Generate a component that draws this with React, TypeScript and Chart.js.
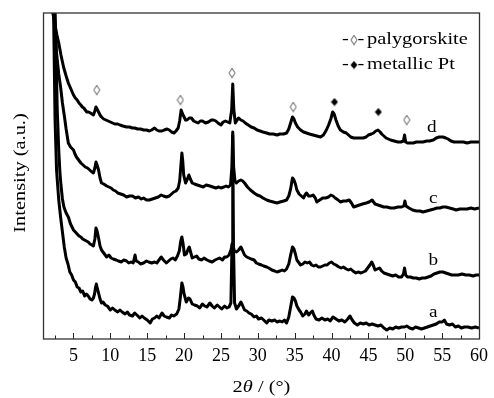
import { useEffect, useRef } from 'react';
import { Chart, registerables } from 'chart.js';

Chart.register(...registerables);

// ---- data (2θ in degrees, intensity in arbitrary units) ----
const curveNames = ['a', 'b', 'c', 'd'];

const seriesA: [number, number][] = [
  [2.0,420],[2.3,326],[2.5,219],[2.7,169],[3.0,139],[3.25,122],[3.5,107],[3.75,92],[4.0,81],[4.25,75],[4.5,67],[4.75,64],[5.0,59],[5.25,57],[5.5,52],[5.75,51],[6.0,47],[6.25,48],[6.5,43],[6.75,45],[7.0,43],[7.25,40],[7.5,39],[7.7,41],[7.85,45],[8.0,52],[8.1,55],[8.25,50],[8.4,46],[8.6,40],[8.8,36],[9.0,37],[9.3,34],[9.6,33],[10.0,29],[10.3,31],[10.6,29],[11.0,27],[11.3,29],[11.6,27],[12.0,25],[12.3,27],[12.6,24],[13.0,23],[13.3,26],[13.6,24],[14.0,21],[14.3,23],[14.6,21],[15.0,19],[15.4,16],[15.7,20],[16.0,21],[16.3,23],[16.6,21],[17.0,26],[17.3,23],[17.6,22],[18.0,21],[18.3,24],[18.6,23],[19.0,25],[19.3,30],[19.5,42],[19.7,56],[19.85,52],[20.0,45],[20.3,37],[20.6,41],[20.8,40],[21.1,35],[21.4,34],[21.8,33],[22.1,31],[22.5,35],[22.8,33],[23.1,32],[23.5,36],[23.8,33],[24.1,31],[24.5,34],[24.8,32],[25.1,30],[25.5,33],[25.8,31],[26.1,32],[26.35,36],[26.5,95],[26.6,204],[26.7,95],[26.85,36],[27.1,30],[27.4,33],[27.7,37],[27.9,34],[28.2,29],[28.5,28],[28.8,26],[29.1,25],[29.5,22],[29.8,23],[30.1,20],[30.5,21],[30.8,19],[31.2,16],[31.5,19],[31.9,18],[32.3,19],[32.6,17],[33.0,18],[33.3,17],[33.6,19],[33.9,16],[34.2,22],[34.5,34],[34.7,42],[34.9,41],[35.1,38],[35.3,33],[35.6,29],[35.8,27],[36.1,23],[36.4,25],[36.6,28],[36.9,24],[37.1,26],[37.4,28],[37.6,24],[37.9,20],[38.3,19],[38.7,21],[39.1,19],[39.5,20],[39.8,18],[40.2,22],[40.6,20],[41.0,18],[41.4,19],[41.8,17],[42.2,20],[42.5,23],[42.8,19],[43.1,16],[43.5,14],[43.9,16],[44.3,15],[44.7,16],[45.1,14],[45.5,15],[45.9,14],[46.3,13],[46.7,14],[47.1,11],[47.5,9],[47.9,11],[48.3,10],[48.7,12],[49.1,11],[49.5,12],[49.9,12],[50.2,13],[50.6,11],[51.0,10],[51.4,12],[51.8,11],[52.2,10],[52.6,11],[53.0,12],[53.4,13],[53.8,14],[54.2,15],[54.6,17],[55.0,17],[55.3,19],[55.6,15],[56.0,14],[56.4,15],[56.8,12],[57.2,13],[57.6,11],[58.0,12],[58.5,12],[59.0,11],[59.5,12],[60.0,11]
];

const seriesB: [number, number][] = [
  [2.2,420],[2.5,326],[2.8,229],[3.0,189],[3.15,168],[3.3,154],[3.5,140],[3.7,132],[4.0,126],[4.3,122],[4.6,115],[5.0,109],[5.25,107],[5.5,105],[5.75,103],[6.0,102],[6.25,100],[6.5,99],[6.75,98],[7.0,97],[7.25,95],[7.5,94],[7.7,93],[7.9,100],[8.05,111],[8.2,108],[8.4,101],[8.6,93],[8.8,89],[9.1,86],[9.5,82],[9.8,84],[10.1,81],[10.4,80],[10.8,79],[11.1,78],[11.5,77],[11.8,79],[12.2,78],[12.5,76],[12.8,77],[13.1,76],[13.35,84],[13.5,78],[13.8,77],[14.1,75],[14.5,76],[14.9,78],[15.2,77],[15.6,76],[16.0,77],[16.3,76],[16.6,79],[16.9,82],[17.2,79],[17.6,76],[17.9,78],[18.2,80],[18.5,81],[18.8,79],[19.1,83],[19.35,88],[19.55,98],[19.7,102],[19.85,96],[20.05,84],[20.3,85],[20.55,90],[20.7,92],[20.85,88],[21.1,81],[21.4,82],[21.7,83],[22.0,80],[22.4,79],[22.7,81],[23.1,79],[23.4,78],[23.8,77],[24.2,79],[24.5,80],[24.8,81],[25.2,79],[25.5,82],[25.8,82],[26.1,84],[26.35,89],[26.6,96],[26.8,88],[27.1,87],[27.4,89],[27.7,92],[27.9,89],[28.2,84],[28.5,82],[28.8,81],[29.1,80],[29.5,79],[29.8,76],[30.1,75],[30.5,74],[30.8,73],[31.2,72],[31.5,71],[31.9,69],[32.3,68],[32.6,67],[33.0,68],[33.3,69],[33.6,68],[33.9,70],[34.2,75],[34.45,84],[34.7,92],[34.9,90],[35.1,85],[35.3,79],[35.6,76],[35.8,74],[36.1,75],[36.4,77],[36.7,76],[37.0,77],[37.3,74],[37.6,73],[37.9,74],[38.2,72],[38.5,72],[38.8,73],[39.1,74],[39.4,74],[39.7,76],[40.0,77],[40.3,75],[40.6,74],[41.0,72],[41.3,71],[41.6,72],[42.0,70],[42.3,69],[42.6,70],[42.9,68],[43.3,66],[43.6,67],[44.0,66],[44.3,67],[44.6,68],[44.9,71],[45.2,74],[45.45,77],[45.7,73],[45.9,69],[46.2,70],[46.5,71],[46.8,68],[47.1,66],[47.5,65],[47.9,64],[48.3,63],[48.7,64],[49.1,62],[49.5,62],[49.75,65],[49.9,71],[50.05,64],[50.3,62],[50.7,62],[51.1,61],[51.5,61],[51.9,60],[52.3,61],[52.7,61],[53.1,62],[53.5,63],[53.9,65],[54.3,66],[54.7,67],[55.1,67],[55.5,66],[55.9,65],[56.3,64],[56.7,64],[57.2,64],[57.7,65],[58.2,64],[58.7,64],[59.2,63],[59.6,64],[60.0,64]
];

const seriesC: [number, number][] = [
  [2.2,420],[2.45,326],[2.7,286],[3.0,265],[3.25,252],[3.5,236],[3.8,221],[4.0,210],[4.3,196],[4.6,192],[5.0,189],[5.2,185],[5.4,182],[5.7,179],[6.0,176],[6.3,174],[6.6,172],[6.9,171],[7.2,169],[7.5,167],[7.7,166],[7.9,171],[8.05,177],[8.2,174],[8.4,169],[8.6,161],[8.8,156],[9.1,155],[9.5,153],[9.8,152],[10.1,151],[10.4,149],[10.7,148],[11.0,146],[11.4,145],[11.8,144],[12.2,142],[12.6,143],[13.0,143],[13.4,141],[13.8,142],[14.2,140],[14.5,141],[14.9,139],[15.3,139],[15.7,140],[16.1,141],[16.5,142],[16.9,144],[17.2,143],[17.6,142],[18.0,143],[18.3,145],[18.6,147],[18.9,148],[19.2,151],[19.4,158],[19.55,172],[19.7,186],[19.82,178],[19.95,164],[20.2,156],[20.45,160],[20.65,164],[20.85,160],[21.1,156],[21.4,155],[21.8,154],[22.2,153],[22.6,152],[23.0,154],[23.5,153],[23.9,152],[24.3,151],[24.7,152],[25.0,151],[25.4,152],[25.7,153],[26.0,152],[26.3,154],[26.48,172],[26.6,207],[26.72,172],[26.9,158],[27.1,156],[27.4,158],[27.7,159],[27.95,158],[28.2,156],[28.6,152],[29.0,149],[29.5,146],[29.9,144],[30.3,143],[30.7,141],[31.2,139],[31.6,138],[32.1,137],[32.6,136],[33.0,137],[33.5,138],[33.9,139],[34.2,143],[34.45,150],[34.7,161],[34.9,159],[35.1,155],[35.3,149],[35.6,145],[35.9,143],[36.2,141],[36.4,144],[36.6,146],[36.9,143],[37.2,143],[37.5,144],[37.8,141],[38.0,137],[38.4,139],[38.8,141],[39.2,141],[39.6,142],[39.9,144],[40.2,143],[40.5,141],[40.9,139],[41.2,137],[41.6,138],[42.0,138],[42.4,139],[42.7,136],[43.0,132],[43.4,133],[43.8,134],[44.2,135],[44.7,136],[45.1,137],[45.5,139],[45.9,135],[46.3,134],[46.7,133],[47.1,132],[47.5,132],[48.0,131],[48.5,131],[49.0,132],[49.5,132],[49.8,133],[49.95,138],[50.1,133],[50.5,131],[51.0,129],[51.5,128],[52.0,128],[52.4,127],[52.9,128],[53.4,129],[53.9,130],[54.3,131],[54.7,131],[55.1,132],[55.5,132],[56.0,131],[56.5,130],[56.9,129],[57.4,130],[57.9,130],[58.4,130],[58.9,131],[59.4,130],[60.0,131]
];

const seriesD: [number, number][] = [
  [1.9,420],[2.2,326],[2.5,314],[2.75,304],[3.0,296],[3.3,284],[3.65,272],[4.0,263],[4.3,256],[4.65,250],[5.0,244],[5.25,241],[5.5,239],[5.75,236],[6.0,234],[6.2,232],[6.4,231],[6.6,229],[6.8,227],[7.05,227],[7.3,226],[7.5,225],[7.7,224],[7.9,228],[8.05,232],[8.2,230],[8.4,227],[8.6,224],[8.8,222],[9.1,220],[9.4,219],[9.7,218],[10.0,217],[10.3,216],[10.6,215],[11.0,215],[11.3,214],[11.7,213],[12.2,212],[12.6,212],[13.0,211],[13.3,211],[13.7,210],[14.1,210],[14.5,209],[14.9,209],[15.3,208],[15.6,209],[16.0,211],[16.3,209],[16.6,208],[17.0,208],[17.3,209],[17.7,210],[18.0,209],[18.3,207],[18.65,206],[18.9,208],[19.2,211],[19.4,218],[19.6,229],[19.8,225],[20.0,222],[20.2,219],[20.4,219],[20.7,221],[21.0,221],[21.3,218],[21.6,217],[21.9,216],[22.2,218],[22.5,218],[22.9,216],[23.3,217],[23.7,219],[24.0,219],[24.3,218],[24.6,216],[25.0,214],[25.3,217],[25.6,218],[25.9,217],[26.2,216],[26.45,229],[26.6,255],[26.75,229],[26.95,216],[27.2,219],[27.4,221],[27.7,219],[28.0,218],[28.3,216],[28.7,214],[29.1,212],[29.5,211],[29.9,209],[30.3,208],[30.7,207],[31.2,206],[31.6,205],[32.1,205],[32.6,204],[33.0,205],[33.5,205],[33.9,206],[34.2,210],[34.45,216],[34.7,222],[34.9,220],[35.1,216],[35.4,212],[35.8,209],[36.2,207],[36.6,206],[37.0,205],[37.5,204],[38.0,203],[38.5,202],[38.9,204],[39.3,209],[39.6,214],[39.9,220],[40.15,227],[40.35,225],[40.6,219],[40.9,213],[41.2,209],[41.6,207],[42.0,206],[42.3,204],[42.6,202],[43.0,201],[43.5,201],[43.9,201],[44.3,201],[44.7,202],[45.0,204],[45.4,205],[45.7,206],[46.0,208],[46.3,209],[46.6,207],[46.8,205],[47.1,203],[47.4,201],[47.7,200],[48.0,199],[48.5,198],[49.0,197],[49.4,197],[49.75,198],[49.9,204],[50.05,197],[50.3,196],[50.7,196],[51.1,196],[51.5,197],[52.0,197],[52.4,197],[52.9,198],[53.3,198],[53.8,199],[54.2,201],[54.6,202],[55.1,202],[55.5,201],[55.8,200],[56.2,198],[56.6,197],[56.9,197],[57.4,197],[57.9,197],[58.4,196],[58.9,197],[59.4,197],[60.0,197]
];

// peak markers (2θ, intensity position)
const palygorskiteMarks: [number, number][] = [[8.15,249],[19.5,239],[26.5,266],[34.8,232],[50.2,219]];
const platinumMarks: [number, number][] = [[40.4,237],[46.35,227]];

// curve letter positions (2θ, intensity)
const curveLabelPos: [number, number][] = [[53.8,22],[53.8,74],[53.8,136],[53.6,207]];

const legendLabels = ['palygorskite', 'metallic Pt'];
const xTickValues = [5, 10, 15, 20, 25, 30, 35, 40, 45, 50, 55, 60];
const xTickMarks = [2.5, 5, 7.5, 10, 12.5, 15, 17.5, 20, 22.5, 25, 27.5, 30, 32.5, 35, 37.5, 40, 42.5, 45, 47.5, 50, 52.5, 55, 57.5];
const yTitle = 'Intensity (a.u.)';
const xTitleParts: [string, boolean][] = [['2', false], ['θ', true], [' / (°)', false]];

const FONT = '"Liberation Serif", "Times New Roman", serif';
const SX = 1.2;

function makeDiamond(filled: boolean): HTMLCanvasElement {
  const c = document.createElement('canvas');
  const w = 8, h = filled ? 9 : 11;
  c.width = w; c.height = h;
  const g = c.getContext('2d')!;
  g.beginPath();
  if (filled) {
    g.moveTo(4, 0.5); g.lineTo(7.5, 4.5); g.lineTo(4, 8.5); g.lineTo(0.5, 4.5);
    g.closePath(); g.fillStyle = '#000'; g.fill();
  } else {
    g.moveTo(4, 0.8); g.lineTo(7, 5.5); g.lineTo(4, 10.2); g.lineTo(1, 5.5);
    g.closePath(); g.fillStyle = '#fff'; g.fill(); g.strokeStyle = '#555'; g.lineWidth = 1; g.stroke();
  }
  return c;
}

function drawStretched(ctx: CanvasRenderingContext2D, text: string, x: number, y: number, font: string, align: CanvasTextAlign) {
  ctx.save();
  ctx.font = font;
  ctx.textAlign = align;
  ctx.textBaseline = 'alphabetic';
  ctx.translate(x, y);
  ctx.scale(SX, 1);
  ctx.fillText(text, 0, 0);
  ctx.restore();
}

export default function App() {
  const ref = useRef<HTMLCanvasElement>(null);

  useEffect(() => {
    if (!ref.current) return;
    const openImg = makeDiamond(false);
    const fillImg = makeDiamond(true);
    const allSeries = [seriesA, seriesB, seriesC, seriesD];

    const decor = {
      id: 'decor',
      afterDraw(chart: any) {
        const { ctx, chartArea: ca, scales } = chart;
        const xs = scales.x, ys = scales.y;
        ctx.save();
        // inward tick marks
        ctx.strokeStyle = '#222';
        ctx.lineWidth = 1;
        for (const v of xTickMarks) {
          const px = Math.round(xs.getPixelForValue(v)) + 0.5;
          const len = xTickValues.includes(v) ? 6 : 3.5;
          ctx.beginPath();
          ctx.moveTo(px, ca.bottom);
          ctx.lineTo(px, ca.bottom - len);
          ctx.stroke();
        }
        // frame
        ctx.strokeStyle = '#333';
        ctx.lineWidth = 1.3;
        ctx.strokeRect(ca.left - 0.5, ca.top, ca.right - ca.left + 1, ca.bottom - ca.top);

        ctx.fillStyle = '#000';
        const f17 = `17px ${FONT}`;
        // y title
        ctx.save();
        ctx.translate(21, (ca.top + ca.bottom) / 2 - 3);
        ctx.rotate(-Math.PI / 2);
        ctx.scale(SX, 1);
        ctx.font = f17;
        ctx.textAlign = 'center';
        ctx.textBaseline = 'middle';
        ctx.fillText(yTitle, 0, 0);
        ctx.restore();

        // x title with italic theta
        const widths = xTitleParts.map(([t, it]) => {
          ctx.font = `${it ? 'italic ' : ''}17px ${FONT}`;
          return ctx.measureText(t).width * SX;
        });
        const total = widths.reduce((a, b) => a + b, 0);
        let cx = (ca.left + ca.right) / 2 - total / 2;
        xTitleParts.forEach(([t, it], i) => {
          drawStretched(ctx, t, cx, 392, `${it ? 'italic ' : ''}17px ${FONT}`, 'left');
          cx += widths[i];
        });

        // legend
        const rows = [44, 69];
        rows.forEach((by, i) => {
          drawStretched(ctx, '-', 342, by, f17, 'left');
          const img = i === 0 ? openImg : fillImg;
          ctx.drawImage(img, 354 - img.width / 2, by - 4 - img.height / 2);
          drawStretched(ctx, '-', 357.5, by, f17, 'left');
          drawStretched(ctx, legendLabels[i], 367, by, f17, 'left');
        });

        // curve letters
        curveNames.forEach((n, i) => {
          const [tx, ty] = curveLabelPos[i];
          drawStretched(ctx, n, xs.getPixelForValue(tx), ys.getPixelForValue(ty), `16px ${FONT}`, 'center');
        });
        ctx.restore();
      },
    };

    const chart = new Chart(ref.current, {
      type: 'line',
      data: {
        datasets: [
          ...allSeries.map((s, i) => ({
            label: curveNames[i],
            data: s.map(([x, y]) => ({ x, y })),
            borderColor: '#000',
            borderWidth: 3,
            borderJoinStyle: 'round',
            pointRadius: 0,
            fill: false,
            tension: 0,
          })),
          {
            label: legendLabels[0],
            data: palygorskiteMarks.map(([x, y]) => ({ x, y })),
            showLine: false,
            pointStyle: openImg,
            pointRadius: 5,
            clip: false,
          },
          {
            label: legendLabels[1],
            data: platinumMarks.map(([x, y]) => ({ x, y })),
            showLine: false,
            pointStyle: fillImg,
            pointRadius: 5,
            clip: false,
          },
        ] as any,
      },
      options: {
        animation: false,
        responsive: true,
        maintainAspectRatio: false,
        events: [],
        layout: { padding: { left: 44, top: 13, right: 11.5, bottom: 0 } },
        plugins: { legend: { display: false }, tooltip: { enabled: false } },
        scales: {
          x: {
            type: 'linear',
            min: 1,
            max: 60,
            afterBuildTicks: (s: any) => {
              s.ticks = xTickValues.map((v) => ({ value: v }));
            },
            afterFit: (s: any) => {
              s.height = 59;
            },
            grid: { display: false, drawTicks: false },
            border: { display: false },
            ticks: {
              font: { family: FONT, size: 18 },
              color: '#000',
              padding: 6,
              maxRotation: 0,
              autoSkip: false,
            },
          },
          y: { display: false, min: 0, max: 326 },
        },
      } as any,
      plugins: [decor],
    });
    return () => chart.destroy();
  }, []);

  return (
    <div style={{ position: 'fixed', left: 0, top: 0, width: 494, height: 398, background: '#fff' }}>
      <canvas ref={ref} />
    </div>
  );
}
